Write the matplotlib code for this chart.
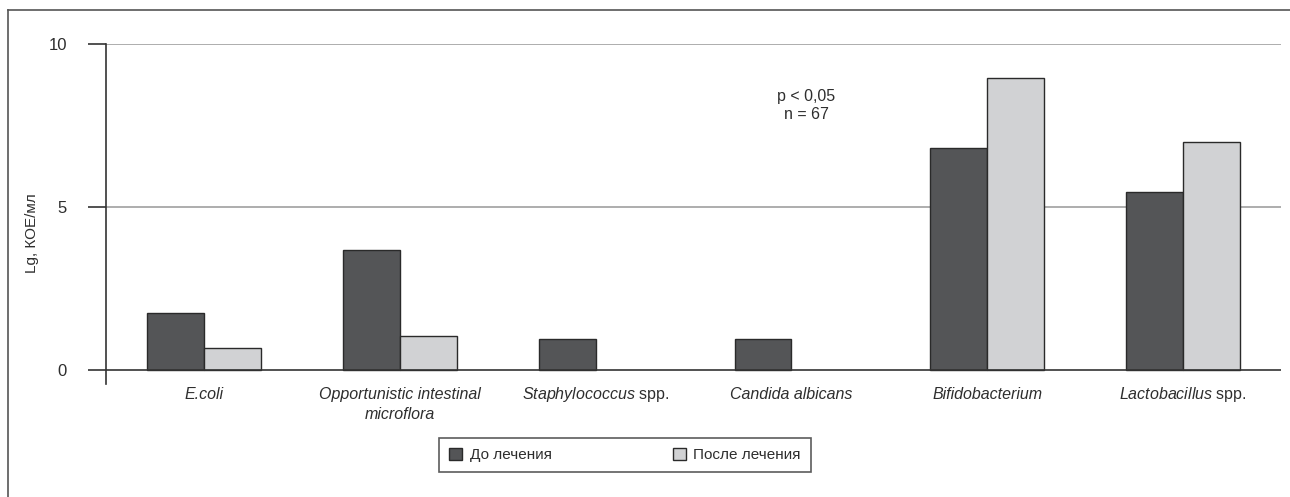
import matplotlib
matplotlib.use("Agg")
import matplotlib.pyplot as plt
import matplotlib.transforms as mtransforms
import numpy as np
from matplotlib.lines import Line2D
from matplotlib.patches import Patch

plt.rcParams['font.family'] = ['Liberation Sans', 'DejaVu Sans']
plt.rcParams['mathtext.fontset'] = 'custom'
plt.rcParams['mathtext.rm'] = 'Liberation Sans'
plt.rcParams['mathtext.it'] = 'Liberation Sans:italic'

categories = ["E.coli",
              "Opportunistic intestinal\nmicroflora",
              r"$\it{Staphylococcus}$ spp.",
              "Candida albicans",
              "Bifidobacterium",
              r"$\it{Lactobacillus}$ spp."]
italic_whole = [True, True, False, True, True, False]
before = [1.75, 3.68, 0.95, 0.95, 6.8, 5.45]
after = [0.68, 1.05, 0.0, 0.0, 8.97, 7.0]
series_names = ["До лечения", "После лечения"]
yticks = [0, 5, 10]

W, H = 1290, 497
PX = 72 / 100  # points per pixel
fig = plt.figure(figsize=(W / 100, H / 100), dpi=100)
ax = fig.add_axes([106 / W, 1 - 384 / H, (1281 - 106) / W, (384 - 44) / H])

dark = "#545557"
light = "#d1d2d4"
edge = "#2a2a2a"
txt = "#2e2e2e"
bw = 0.29
x = np.arange(len(categories))
ax.bar(x - bw / 2, before, bw, color=dark, edgecolor=edge, linewidth=1.0, zorder=3)
after_plot = [v if v > 0 else np.nan for v in after]
ax.bar(x + bw / 2, after_plot, bw, color=light, edgecolor=edge, linewidth=1.0, zorder=3)

ax.set_xlim(-0.5, len(categories) - 0.5)
ax.set_ylim(-14 / 32.6, 10)

for v in yticks[1:]:
    ax.axhline(v, color="#a0a0a0", linewidth=1.2, zorder=1)
ax.axhline(0, color="#333333", linewidth=1.2, zorder=4)

for s in ["top", "right", "bottom"]:
    ax.spines[s].set_visible(False)
ax.spines["left"].set_color("#333333")
ax.spines["left"].set_linewidth(1.2)

ax.set_yticks(yticks)
ax.set_yticklabels([str(v) for v in yticks], fontsize=12, color=txt)
ax.tick_params(axis="y", length=18 * PX, width=1.2, color="#333333", pad=21 * PX)
ax.set_xticks(x)
ax.set_xticklabels([])
ax.tick_params(axis="x", length=0)

xt = ax.get_xaxis_transform()
for i, (label, it) in enumerate(zip(categories, italic_whole)):
    for j, line in enumerate(label.split("\n")):
        off = mtransforms.ScaledTranslation(0, -(15 + 20 * j) / 100, fig.dpi_scale_trans)
        ax.text(x[i], 0, line, transform=xt + off, ha="center", va="baseline",
                fontsize=11.5, color=txt, fontstyle="italic" if it else "normal", clip_on=False)

fig.text(32 / W, 1 - 233 / H, "Lg, КОЕ/мл", rotation=90, ha="center", va="center",
         fontsize=11, color=txt)

trans = mtransforms.blended_transform_factory(ax.transAxes, ax.transData)
ax.text((806 - 106) / (1281 - 106), 8.1, "p < 0,05\nn = 67", transform=trans,
        ha="center", va="center", fontsize=11.5, color=txt, linespacing=1.25)

# frame around figure (left + top)
fig.add_artist(Line2D([8 / W, 8 / W], [0, 1 - 10 / H], transform=fig.transFigure, color="#555555", linewidth=1.2))
fig.add_artist(Line2D([8 / W, 1], [1 - 10 / H, 1 - 10 / H], transform=fig.transFigure, color="#555555", linewidth=1.2))

handles = [Patch(facecolor=dark, edgecolor=edge, linewidth=1.0),
           Patch(facecolor=light, edgecolor=edge, linewidth=1.0)]
leg = fig.legend(handles, series_names, loc="center", bbox_to_anchor=(625 / W, 1 - 455 / H),
                 ncol=2, frameon=True, fancybox=False, fontsize=11, handlelength=0.85, handleheight=0.85,
                 columnspacing=7.9, handletextpad=0.5, borderpad=0.65, edgecolor="#333333")
leg.get_frame().set_linewidth(1.2)
for t in leg.get_texts():
    t.set_color(txt)

fig.savefig("out.png", dpi=100)
